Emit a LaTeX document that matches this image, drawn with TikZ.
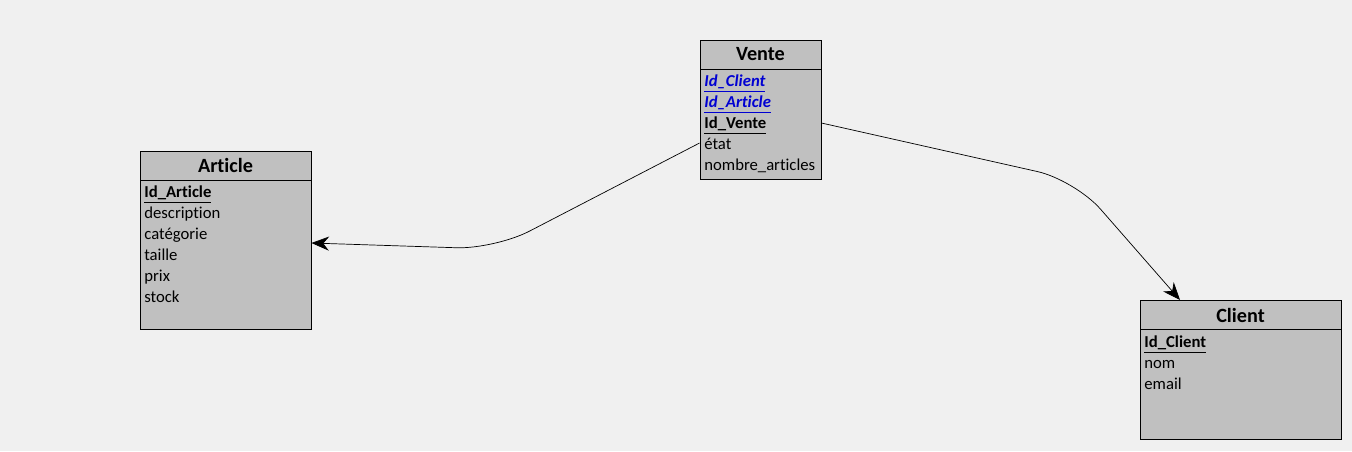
\documentclass[tikz,border=0pt]{standalone}
\usepackage{fontspec}
\setmainfont{Carlito}[Ligatures=NoCommon]
\usetikzlibrary{arrows.meta}

\definecolor{bgback}{RGB}{240,240,240}
\definecolor{boxgray}{RGB}{192,192,192}
\definecolor{fkblue}{RGB}{0,0,210}

\begin{document}
\begin{tikzpicture}[x=0.02cm, y=-0.02cm,
  entity/.style={draw, fill=boxgray, shape=rectangle, inner sep=0pt, line width=0.5pt},
  header/.style={font=\fontsize{11.5}{13}\selectfont\bfseries},
  attr/.style={anchor=west, inner sep=0pt, yshift=-1pt, text height=1.6ex, text depth=0.5ex, font=\fontsize{9.5}{11}\selectfont},
  keyattr/.style={attr, font=\fontsize{9.5}{11}\selectfont\bfseries},
  fkattr/.style={keyattr, text=fkblue, font=\fontsize{9.5}{11}\selectfont\bfseries\itshape},
  link/.style={-{Stealth[length=10pt,width=8pt]}, rounded corners=22pt, line width=0.4pt}]
\fill[bgback] (0,0) rectangle (1352,451); %background fixes the margins

% tables
\node[entity, minimum width=2.42cm, minimum height=2.78cm] (vente)   at (760.5,109.5) {};
\node[entity, minimum width=3.42cm, minimum height=3.56cm] (article) at (225.5,240) {};
\node[entity, minimum width=4.02cm, minimum height=2.78cm] (client)  at (1240.5,369.5) {};
\draw[line width=0.5pt] (700,69) -- (821,69);
\draw[line width=0.5pt] (140,180) -- (311,180);
\draw[line width=0.5pt] (1140,329) -- (1341,329);

% Vente
\node[header] (tvente) at (760.5,54) {Vente};
\node[fkattr]  (vclient)  at (704,80)  {\underline{Id\_Client}};
\node[fkattr]  (varticle) at (704,101) {\underline{Id\_Article}};
\node[keyattr] (idvente)  at (704,122) {\underline{Id\_Vente}};
\node[attr]    (etat)     at (704,143) {état};
\node[attr]    (nbart)    at (704,164) {nombre\_articles};

% Article
\node[header] (tarticle) at (225.5,165) {Article};
\node[keyattr] (idarticle) at (144,191) {\underline{Id\_Article}};
\foreach \name/\txt [count=\i] in {desc/description, cat/catégorie, taille/taille, prix/prix, stock/stock}
  \node[attr] (\name) at (144,191+21*\i) {\txt};

% Client
\node[header] (tclient) at (1240.5,315) {Client};
\node[keyattr] (idclient) at (1144,341) {\underline{Id\_Client}};
\node[attr]    (nom)      at (1144,362) {nom};
\node[attr]    (email)    at (1144,383) {email};

% relations
\coordinate (bendA) at (495,249);
\coordinate (bendC) at (1075,180);
\coordinate (clientTop) at (1180,300);
\draw[link] (vente.west |- 0,143) -- (bendA) -- (article.east |- 0,243);
\draw[link] (vente.east |- 0,123) -- (bendC) -- (clientTop);
\end{tikzpicture}
\end{document}
